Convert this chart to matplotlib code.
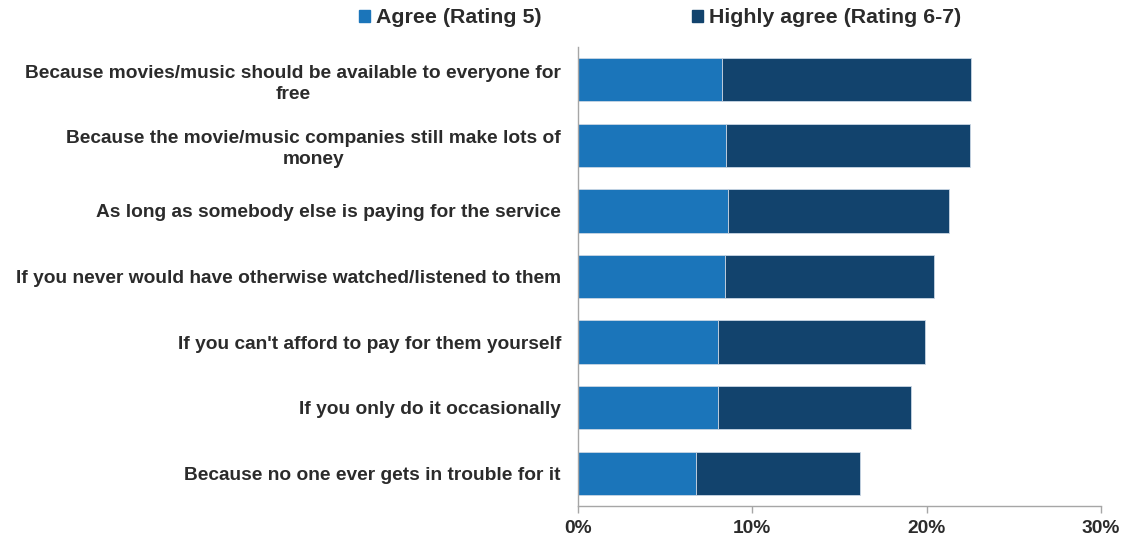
import matplotlib.pyplot as plt
from matplotlib.patches import Patch
from matplotlib.ticker import FuncFormatter

plt.rcParams['font.family'] = ['Liberation Sans', 'DejaVu Sans']

# reasons, top to bottom
reasons = [
    "Because movies/music should be available to everyone for\nfree",
    "Because the movie/music companies still make lots of\nmoney",
    "As long as somebody else is paying for the service",
    "If you never would have otherwise watched/listened to them",
    "If you can't afford to pay for them yourself",
    "If you only do it occasionally",
    "Because no one ever gets in trouble for it",
]
agree = [8.27, 8.50, 8.59, 8.46, 8.02, 8.02, 6.81]
highly_agree = [14.27, 13.98, 12.72, 11.99, 11.90, 11.07, 9.38]
x_ticks = [0, 10, 20, 30]

c_agree = '#1B75BA'
c_high = '#12436D'
txt = '#2b2b2b'

fig = plt.figure(figsize=(11.21, 5.4), dpi=100)
ax = fig.add_axes([0.5153, 0.063, 0.4669, 0.850])

pos = list(range(len(reasons)))
ax.barh(pos, agree, height=0.66, color=c_agree, edgecolor='#c9d6e4', linewidth=0.6)
ax.barh(pos, highly_agree, left=agree, height=0.66, color=c_high, edgecolor='#c9d6e4', linewidth=0.6)

ax.set_ylim(len(reasons) - 0.5, -0.5)
ax.set_xlim(0, 30)
ax.set_yticks(pos)
ax.set_yticklabels(reasons, fontsize=13.8, fontweight='bold', color=txt,
                   multialignment='center', linespacing=1.3)
ax.tick_params(axis='y', length=0, pad=12)
ax.set_xticks(x_ticks)
ax.xaxis.set_major_formatter(FuncFormatter(lambda v, p: f"{v:.0f}%"))
ax.tick_params(axis='x', length=5, width=1, color='#a6a6a6', labelsize=13.8, labelcolor=txt, pad=5)
for lab in ax.get_xticklabels():
    lab.set_fontweight('bold')

for s in ['top', 'right']:
    ax.spines[s].set_visible(False)
for s in ['left', 'bottom']:
    ax.spines[s].set_color('#a6a6a6')
    ax.spines[s].set_linewidth(1)

handles = [Patch(color=c_agree), Patch(color=c_high)]
fig.legend(handles, ["Agree (Rating 5)", "Highly agree (Rating 6-7)"],
           loc='center', bbox_to_anchor=(0.589, 0.967), ncol=2, frameon=False,
           prop={'weight': 'bold', 'size': 15.4}, labelcolor=txt,
           handlelength=0.5, handleheight=0.5, handletextpad=0.3, columnspacing=7.0)

fig.savefig('out.png', dpi=100)
